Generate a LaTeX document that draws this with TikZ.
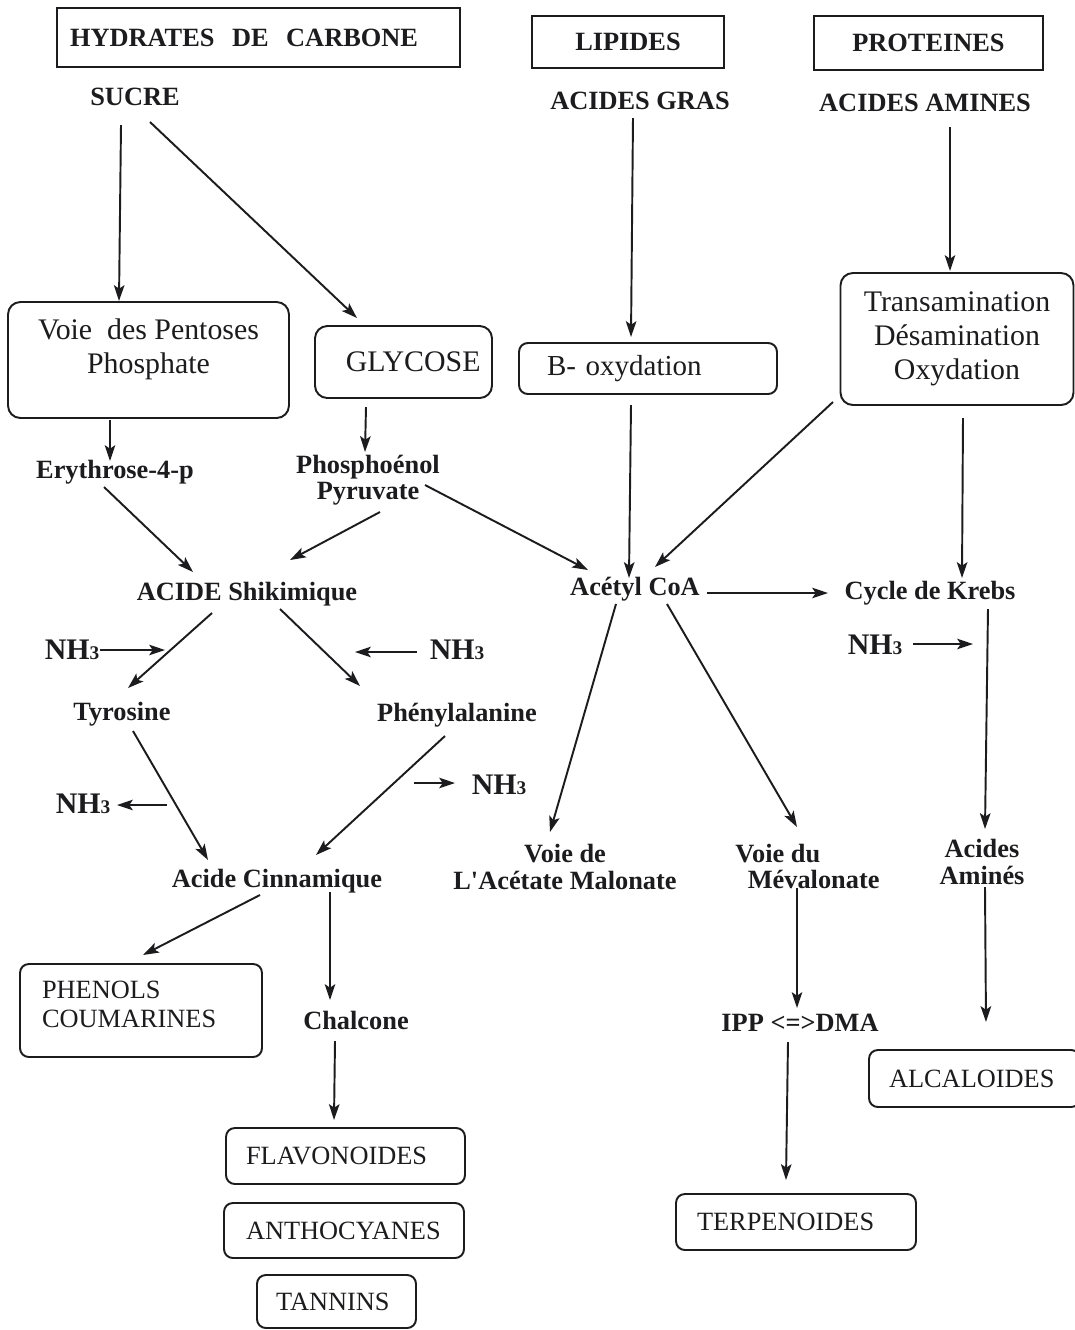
\documentclass[tikz,border=0pt]{standalone}
\usepackage{fontspec}
\setmainfont{Liberation Serif}
\usepackage{tikz}
\usetikzlibrary{arrows.meta,calc}
\definecolor{inkBlack}{RGB}{28, 28, 30}
\newcommand{\nhthree}{NH{\fontsize{11pt}{11pt}\selectfont 3}}

\begin{document}
\begin{tikzpicture}[x=0.02cm, y=-0.02cm,
    lbl/.style={font=\fontsize{15pt}{15pt}\selectfont\bfseries, inner sep=0pt, align=center, text=inkBlack},
    nh/.style={font=\fontsize{17pt}{17pt}\selectfont\bfseries, inner sep=0pt, text=inkBlack},
    headbox/.style={draw=inkBlack, line width=1.1pt, font=\fontsize{15pt}{15pt}\selectfont\bfseries, text=inkBlack},
    roundbox/.style={draw=inkBlack, line width=1.1pt, rounded corners=7pt, font=\fontsize{17pt}{19.5pt}\selectfont, align=center, inner sep=0pt, text=inkBlack},
    endbox/.style={draw=inkBlack, line width=1.1pt, rounded corners=5pt, font=\fontsize{15pt}{16.5pt}\selectfont, align=left, inner ysep=0pt, text=inkBlack},
    arr/.style={draw=inkBlack, line width=1.1pt, -{Stealth[length=9pt,width=6pt,inset=2pt]}}]
\useasboundingbox (0,0) rectangle (1075,1330);

% sources
\node[headbox, align=left, text width=7.54cm, inner xsep=0.26cm, inner ysep=0pt, minimum height=1.18cm] (hydrates) at (258.5,37.5) {HYDRATES~ DE~ CARBONE};
\node[headbox, minimum width=3.84cm, minimum height=1.04cm] (lipides) at (628,42) {LIPIDES};
\node[headbox, minimum width=4.58cm, minimum height=1.08cm] (proteines) at (928.5,43) {PROTEINES};
\node[lbl] (sucre) at (135,97) {SUCRE};
\node[lbl] (acgras) at (640,101) {ACIDES GRAS};
\node[lbl] (acam) at (925,103) {ACIDES AMINES};

% primary pathways
\node[roundbox, minimum width=5.62cm, minimum height=2.32cm] (pentoses) at (148.5,360) {Voie~ des Pentoses\\Phosphate\\[-4pt]\mbox{}};
\node[roundbox, minimum width=3.54cm, minimum height=1.44cm] (glycose) at (403.5,362) {\hspace*{11pt}GLYCOSE};
\node[endbox, font=\fontsize{16.5pt}{18pt}\selectfont, text width=4.04cm, inner xsep=0.56cm, minimum height=1.02cm] (boxid) at (648,368.5) {B- oxydation};
\node[roundbox, minimum width=4.66cm, minimum height=2.64cm] (transam) at (957,339) {Transamination\\Désamination\\Oxydation};

% intermediates
\node[lbl] (erythrose) at (115,472) {Erythrose-4-p};
\node[lbl] (pep) at (368,480) {Phosphoénol\\Pyruvate};
\node[lbl] (shik) at (247,594) {ACIDE Shikimique};
\node[lbl] (acetyl) at (635,589) {Acétyl CoA};
\node[lbl] (krebs) at (930,593) {Cycle de Krebs};
\node[nh] (nhA) at (72,650) {\nhthree};
\node[nh] (nhB) at (457,650) {\nhthree};
\node[nh] (nhC) at (875,645) {\nhthree};
\node[lbl] (tyr) at (122,714) {Tyrosine};
\node[lbl] (phe) at (457,715) {Phénylalanine};
\node[nh] (nhD) at (83,804) {\nhthree};
\node[nh] (nhE) at (499,785) {\nhthree};
\node[lbl] (cinn) at (277,881) {Acide Cinnamique};
\node[lbl] (malon) at (565,867) {Voie de\\L\textquotesingle Acétate Malonate};
\node[lbl, align=left] (meval) at (807.5,866.5) {Voie du\\\hspace*{7pt}Mévalonate};
\node[lbl] (acamines) at (982,862) {Acides\\Aminés};
\node[lbl] (chalcone) at (356,1020) {Chalcone};
\node[lbl] (ipp) at (800,1023) {IPP <=>DMA};

% end products
\node[endbox, text width=3.96cm, inner xsep=0.44cm, minimum height=1.86cm] (phenols) at (141,1010.5) {PHENOLS\\COUMARINES\\[-9pt]\mbox{}};
\node[endbox, text width=3.98cm, inner xsep=0.4cm, minimum height=1.12cm] (flavo) at (345.5,1156) {FLAVONOIDES};
\node[endbox, text width=3.92cm, inner xsep=0.44cm, minimum height=1.1cm] (antho) at (344,1230.5) {ANTHOCYANES};
\node[endbox, text width=2.42cm, inner xsep=0.38cm, minimum height=1.06cm] (tannins) at (336.5,1301.5) {TANNINS};
\node[endbox, text width=3.96cm, inner xsep=0.42cm, minimum height=1.12cm] (terpen) at (796,1222) {TERPENOIDES};
\node[endbox, text width=3.42cm, inner xsep=0.4cm, minimum height=1.14cm] (alcal) at (974.5,1078.5) {ALCALOIDES};

% free ends of the NH3 arrows
\coordinate (nhAtip) at (165,650);
\coordinate (nhBtip) at (355,652);
\coordinate (nhCtip) at (973,644);
\coordinate (nhDtail) at (167,805);
\coordinate (nhEtail) at (414,783);

% arrows
\draw[arr] ($(sucre)+(-14,28)$) -- ($(pentoses)+(-29.5,-59)$);
\draw[arr] ($(sucre)+(15,25)$) -- ($(glycose)+(-46.5,-44)$);
\draw[arr] ($(acgras)+(-7,17)$) -- ($(boxid)+(-17,-31.5)$);
\draw[arr] ($(acam)+(25,24)$) -- ($(transam)+(-7,-68)$);
\draw[arr] ($(pentoses)+(-38.5,60)$) -- ($(erythrose)+(-5,-11)$);
\draw[arr] ($(glycose)+(-37.5,45)$) -- ($(pep)+(-3,-28)$);
\draw[arr] ($(boxid)+(-17,36.5)$) -- ($(acetyl)+(-6,-11)$);
\draw[arr] ($(transam)+(-124,63)$) -- ($(acetyl)+(20,-22)$);
\draw[arr] ($(transam)+(6,79)$) -- ($(krebs)+(32,-15)$);
\draw[arr] ($(pep)+(57,5)$) -- ($(acetyl)+(-47,-19)$);
\draw[arr] ($(pep)+(12,32)$) -- ($(shik)+(43,-34)$);
\draw[arr] ($(erythrose)+(-11,15)$) -- ($(shik)+(-54,-22)$);
\draw[arr] ($(acetyl)+(72,4)$) -- ($(krebs)+(-102,0)$);
\draw[arr] ($(shik)+(-35,19)$) -- ($(tyr)+(6,-26)$);
\draw[arr] ($(shik)+(33,15)$) -- ($(phe)+(-97,-29)$);
\draw[arr] ($(tyr)+(11,17)$) -- ($(cinn)+(-69,-21)$);
\draw[arr] ($(phe)+(-12,21)$) -- ($(cinn)+(39,-26)$);
\draw[arr] ($(acetyl)+(-19,15)$) -- ($(malon)+(-15,-35)$);
\draw[arr] ($(acetyl)+(32,15)$) -- ($(meval)+(-10.5,-39.5)$);
\draw[arr] ($(krebs)+(58,16)$) -- ($(acamines)+(3,-33)$);
\draw[arr] ($(cinn)+(-17,14)$) -- ($(phenols)+(2,-55.5)$);
\draw[arr] ($(cinn)+(53,11)$) -- ($(chalcone)+(-26,-20)$);
\draw[arr] ($(chalcone)+(-21,21)$) -- ($(flavo)+(-11.5,-36)$);
\draw[arr] ($(meval)+(-10.5,21.5)$) -- ($(ipp)+(-3,-15)$);
\draw[arr] ($(ipp)+(-12,19)$) -- ($(terpen)+(-10,-42)$);
\draw[arr] ($(acamines)+(3,25)$) -- ($(alcal)+(11.5,-56.5)$);
\draw[arr] ($(nhA)+(28,0)$) -- (nhAtip);
\draw[arr] ($(nhB)+(-40,2)$) -- (nhBtip);
\draw[arr] ($(nhC)+(38,-1)$) -- (nhCtip);
\draw[arr] (nhDtail) -- ($(nhD)+(34,1)$);
\draw[arr] (nhEtail) -- ($(nhE)+(-44,-2)$);
\end{tikzpicture}
\end{document}
